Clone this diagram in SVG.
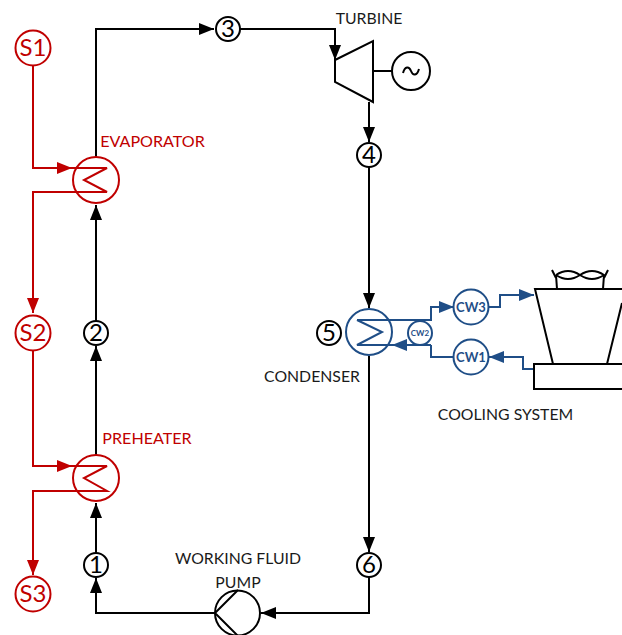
<svg xmlns="http://www.w3.org/2000/svg" width="622" height="635" viewBox="0 0 622 635">
<style>
text{font-family:Lato,"Open Sans","Liberation Sans",sans-serif;text-anchor:middle}
.k{fill:none;stroke:#000;stroke-width:2}
.r{fill:none;stroke:#c00000;stroke-width:2}
.b{fill:none;stroke:#1f4e87;stroke-width:2}
.nk{fill:#fff;stroke:#000;stroke-width:2}
.nr{fill:#fff;stroke:#c00000;stroke-width:2}
.nb{fill:#fff;stroke:#1f4e87;stroke-width:2}
.tk{fill:#1a1a1a;font-size:15.800px}
.tr{fill:#c00000;font-size:16.100px}
.num{fill:#000;font-size:24px}
.s{fill:#c00000;font-size:24px}
.cw{fill:#1f4e87;font-size:13px;font-weight:700}
</style>
<defs>
<marker id="ak" markerUnits="userSpaceOnUse" markerWidth="16" markerHeight="12" refX="15" refY="6" orient="auto"><path d="M0 0L15 6L0 12Z" fill="#000"/></marker>
<marker id="ar" markerUnits="userSpaceOnUse" markerWidth="16" markerHeight="12" refX="15" refY="6" orient="auto"><path d="M0 0L15 6L0 12Z" fill="#c00000"/></marker>
<marker id="ab" markerUnits="userSpaceOnUse" markerWidth="16" markerHeight="12" refX="15" refY="6" orient="auto"><path d="M0 0L15 6L0 12Z" fill="#1f4e87"/></marker>
</defs>
<g id="connectors">
<path class="k" marker-end="url(#ak)" d="M96 157V29H214"/>
<path class="k" marker-end="url(#ak)" d="M240 29H335V60"/>
<path class="k" marker-end="url(#ak)" d="M369 102V142"/>
<path class="k" marker-end="url(#ak)" d="M369 167V308"/>
<path class="k" marker-end="url(#ak)" d="M369 356V552"/>
<path class="k" marker-end="url(#ak)" d="M369 577V613H261"/>
<path class="k" marker-end="url(#ak)" d="M215 613H96V578"/>
<path class="k" marker-end="url(#ak)" d="M96 553V503"/>
<path class="k" marker-end="url(#ak)" d="M96 455V346"/>
<path class="k" marker-end="url(#ak)" d="M96 321V205"/>
<path class="k" d="M373 71H392"/>
<path class="r" marker-end="url(#ar)" d="M33 66V168H72"/>
<path class="r" marker-end="url(#ar)" d="M107 192H33V313"/>
<path class="r" marker-end="url(#ar)" d="M33 351V466H72"/>
<path class="r" marker-end="url(#ar)" d="M107 491H33V575"/>
<path class="b" marker-end="url(#ab)" d="M357 320H431V307H454"/>
<path class="b" marker-end="url(#ab)" d="M489 307H500V295H534"/>
<path class="b" marker-end="url(#ab)" d="M534 369H523V357H489"/>
<path class="b" d="M454 357H431V345"/>
<path class="b" marker-end="url(#ab)" d="M431 345H392"/>
</g>
<g id="S1"><circle class="nr" cx="33" cy="48" r="17.5"/><text class="s" x="33" y="56">S1</text></g>
<g id="S2"><circle class="nr" cx="33" cy="333" r="17.5"/><text class="s" x="33" y="341">S2</text></g>
<g id="S3"><circle class="nr" cx="33" cy="594" r="17.5"/><text class="s" x="33" y="602">S3</text></g>
<g id="evaporator"><circle class="r" cx="96" cy="180" r="23"/><path class="r" d="M72 168H107L84 180L107 192H72"/><text class="tr" x="152.500" y="147">EVAPORATOR</text></g>
<g id="preheater"><circle class="r" cx="96" cy="478" r="23"/><path class="r" d="M72 466H107L84 478L107 491H72"/><text class="tr" x="147" y="444">PREHEATER</text></g>
<g id="n1"><circle class="nk" cx="96" cy="565" r="12"/><text class="num" x="96" y="573">1</text></g>
<g id="n2"><circle class="nk" cx="96" cy="333" r="12"/><text class="num" x="96" y="341">2</text></g>
<g id="n3"><circle class="nk" cx="228" cy="29" r="12"/><text class="num" x="228" y="37">3</text></g>
<g id="n4"><circle class="nk" cx="369" cy="155" r="12"/><text class="num" x="369" y="163">4</text></g>
<g id="n5"><circle class="nk" cx="329" cy="333" r="12"/><text class="num" x="329" y="341">5</text></g>
<g id="n6"><circle class="nk" cx="369" cy="565" r="12"/><text class="num" x="369" y="573">6</text></g>
<g id="turbine"><path class="nk" d="M335 60L373 41V102L335 82Z"/><text class="tk" x="369" y="24">TURBINE</text></g>
<g id="generator"><circle class="nk" cx="411" cy="71" r="19"/><path class="k" d="M403 73C405 66 409 66 411 71S417 76 419 69"/></g>
<g id="condenser"><circle class="b" cx="369" cy="332" r="23"/><path class="b" d="M357 320L382 332L357 345H392"/><text class="tk" x="312" y="382">CONDENSER</text></g>
<g id="CW2"><circle class="nb" cx="420" cy="333" r="12"/><text class="cw" style="font-size:8px" x="420" y="336">CW2</text></g>
<g id="CW3"><circle class="nb" cx="471" cy="307" r="17.500"/><text class="cw" x="471" y="312">CW3</text></g>
<g id="CW1"><circle class="nb" cx="471" cy="357" r="17.500"/><text class="cw" x="471" y="362">CW1</text></g>
<g id="pump"><circle class="k" cx="237.500" cy="613" r="22.500"/><path class="k" d="M215 613L238 590M215 613L238 636"/><text class="tk" x="238" y="564">WORKING FLUID</text><text class="tk" x="238" y="588">PUMP</text></g>
<g id="cooling-tower"><path class="k" d="M622 289H535L553 364M607 364L622 303"/><path class="k" d="M622 364H534V389H622"/><path class="k" d="M556 275L557 289M604 275L603 289"/><path class="k" d="M552 270L556 278M608 270L604 278"/><path class="k" d="M556 275Q568 267 580 275Q568 283 556 275M580 275Q592 267 604 275Q592 283 580 275"/><text class="tk" x="505.500" y="420">COOLING SYSTEM</text></g>
</svg>
